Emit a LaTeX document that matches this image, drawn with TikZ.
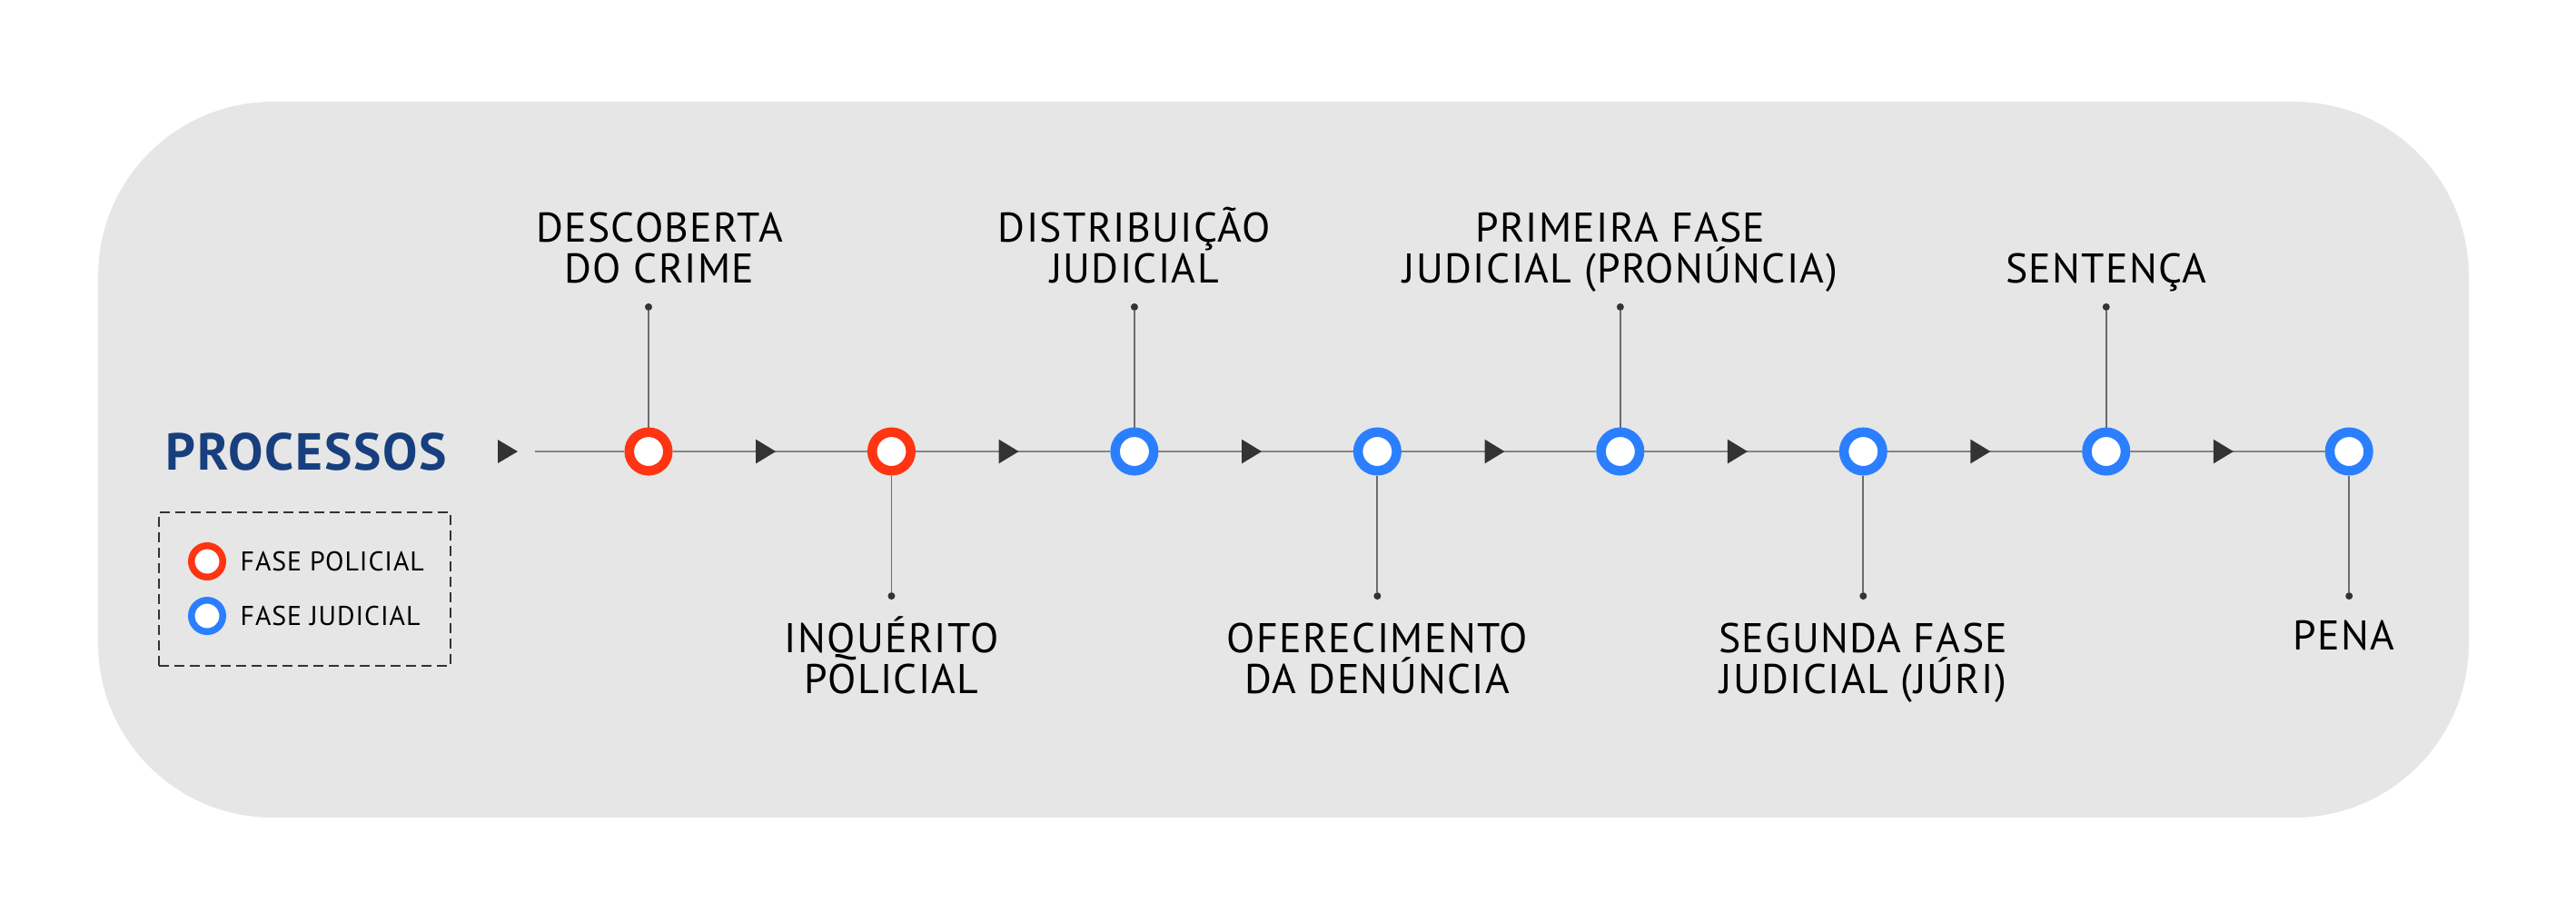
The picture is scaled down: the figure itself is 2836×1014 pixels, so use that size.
\documentclass[tikz,border=0pt]{standalone}
\usepackage{fontspec}
\setmainfont{PT Sans}[LetterSpace=3]
\usetikzlibrary{
  arrows.meta,
  decorations.markings,
  positioning
}
\definecolor{panel}{HTML}{E6E6E6}
\definecolor{policial}{HTML}{FF3412}
\definecolor{judicial}{HTML}{2B7FFF}
\definecolor{navy}{HTML}{173F7E}
\definecolor{railgray}{HTML}{858585}
\definecolor{stemgray}{HTML}{6C6C6C}
\definecolor{ink}{HTML}{333333}
\tikzset{
  node distance = 1.285cm and 2.143cm,
  stage/.style = {circle, draw=#1, fill=white, line width=0.105cm,
    inner sep=0pt, minimum size=0.425cm},
  keydot/.style = {stage=#1, line width=0.075cm, minimum size=0.345cm},
  knob/.style = {circle, fill=ink, inner sep=0pt, outer sep=0pt,
    minimum size=0.08cm},
  rail/.style = {draw=railgray, line width=0.025cm},
  flow/.style = {rail, postaction={decorate},
    decoration={markings, mark=at position 0.53 with
      {\arrow{Triangle[length=0.22cm, width=0.26cm, color=ink]}}}},
  stem/.style = {draw=stemgray, line width=0.018cm},
  stagetext/.style = {align=center, inner sep=0pt,
    font=\fontsize{13}{12.8}\selectfont},
  keytext/.style = {inner sep=0pt, text depth=0pt,
    font=\fontsize{8.5}{10}\selectfont},
}
\begin{document}
\begin{tikzpicture}[x=0.01cm, y=-0.01cm]
  \useasboundingbox (0,0) rectangle (2836,1014);
  \fill[panel, rounded corners=1.92cm] (108,112) rectangle (2718,900);

  % title and legend
  \node[anchor=base west, inner sep=0pt, text=navy,
    font=\bfseries\fontsize{16.3}{18}\selectfont] (title) at (182,517) {PROCESSOS};
  \node[draw=ink, dash pattern=on 0.11cm off 0.06cm, line width=0.025cm,
    minimum width=3.21cm, minimum height=1.69cm] (legend) at (335.5,648.5) {};
  \node[keydot=policial] (k1) at (228,618) {};
  \node[keydot=judicial, below=0.18cm of k1] (k2) {};
  \node[keytext, right=0.15cm of k1] (p1) {FASE POLICIAL};
  \node[keytext, right=0.15cm of k2] (p2) {FASE JUDICIAL};

  % stages
  \node[stage=policial] (s1) at (714,497) {};
  \node[stage=policial, right=of s1] (s2) {};
  \node[stage=judicial, right=of s2] (s3) {};
  \node[stage=judicial, right=of s3] (s4) {};
  \node[stage=judicial, right=of s4] (s5) {};
  \node[stage=judicial, right=of s5] (s6) {};
  \node[stage=judicial, right=of s6] (s7) {};
  \node[stage=judicial, right=of s7] (s8) {};

  \coordinate (gate) at (570,497);
  \coordinate (start) at (589,497);
  \fill[ink] (gate) -- ++(-22,-13) -- ++(0,26) -- cycle;
  \draw[rail] (start) -- (s1);
  \draw[flow] (s1) -- (s2);
  \draw[flow] (s2) -- (s3);
  \draw[flow] (s3) -- (s4);
  \draw[flow] (s4) -- (s5);
  \draw[flow] (s5) -- (s6);
  \draw[flow] (s6) -- (s7);
  \draw[flow] (s7) -- (s8);

  % leaders
  \node[knob, above=of s1] (d1) {};
  \node[knob, below=of s2] (d2) {};
  \node[knob, above=of s3] (d3) {};
  \node[knob, below=of s4] (d4) {};
  \node[knob, above=of s5] (d5) {};
  \node[knob, below=of s6] (d6) {};
  \node[knob, above=of s7] (d7) {};
  \node[knob, below=of s8] (d8) {};
  \draw[stem]
      (s1) -- (d1)
      (s2) -- (d2)
      (s3) -- (d3)
      (s4) -- (d4)
      (s5) -- (d5)
      (s6) -- (d6)
      (s7) -- (d7)
      (s8) -- (d8);

  % labels
  \node[stagetext, above=0.22cm of d1, anchor=base, xshift=0.12cm] (t1) {DESCOBERTA\\DO CRIME};
  \node[stagetext, below=1.03cm of d2, anchor=base] (t2) {INQUÉRITO\\POLICIAL};
  \node[stagetext, above=0.22cm of d3, anchor=base] (t3) {DISTRIBUIÇÃO\\JUDICIAL};
  \node[stagetext, below=1.03cm of d4, anchor=base] (t4) {OFERECIMENTO\\DA DENÚNCIA};
  \node[stagetext, above=0.22cm of d5, anchor=base] (t5) {PRIMEIRA FASE\\JUDICIAL (PRONÚNCIA)};
  \node[stagetext, below=1.03cm of d6, anchor=base] (t6) {SEGUNDA FASE\\JUDICIAL (JÚRI)};
  \node[stagetext, above=0.22cm of d7, anchor=base] (t7) {SENTENÇA};
  \node[stagetext, below=0.55cm of d8, anchor=base, xshift=-0.06cm] (t8) {PENA};
\end{tikzpicture}
\end{document}
